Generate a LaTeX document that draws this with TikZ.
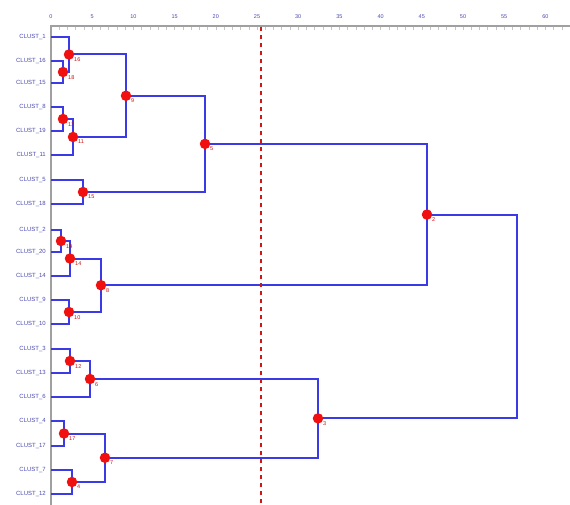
\documentclass[tikz,border=0pt]{standalone}
\usepackage{fontspec}
\setmainfont{Liberation Sans}
\usepackage{tikz}
\usetikzlibrary{positioning,calc}
\definecolor{tree}    {HTML}{3A3AE6}
\definecolor{leafink} {HTML}{4A4AB0}
\definecolor{dotred}  {HTML}{F01010}
\definecolor{cutred}  {HTML}{D01818}
\definecolor{axisgray}{HTML}{A0A0A0}
\tikzset{
  % --- nodes
  leaf/.style  = {anchor=east, inner sep=0pt, text=leafink, font=\fontsize{6}{7}\selectfont},
  tlbl/.style  = {anchor=south, inner sep=0pt, text=leafink, font=\fontsize{5.5}{6}\selectfont},
  mdot/.style  = {circle, fill=dotred, inner sep=0pt, minimum size=10.5pt},
  mlbl/.style  = {anchor=north west, inner sep=0pt, text=dotred!85!black, font=\fontsize{5.5}{6}\selectfont},
  % --- edges
  link/.style  = {draw=tree, line width=2pt},
  axis/.style  = {draw=axisgray, line width=2pt},
  cut/.style   = {draw=cutred, line width=1.8pt, dash pattern=on 4pt off 4pt},
}
\begin{document}
\begin{tikzpicture}[x=1pt,y=-1pt]
  \useasboundingbox (0,0) rectangle (570,505);
  % axis and ticks
  \coordinate (ax0) at (51,26);
  \coordinate (ax1) at (570,26);
  \coordinate (ax2) at (51,505);
  \foreach \v in {0,5,...,60}
    \node[tlbl] (t\v) at ({51+8.24*\v},19) {\v};
  \foreach \v in {1,...,62}
    \draw[axisgray!60, line width=0.5pt] ({51+8.24*\v},27) -- ++(0,3);
  \draw[axis] (ax2) -- (ax0) -- (ax1);
  % leaves
  \foreach \n/\ly in {1/37,16/61,15/83,8/107,19/131,11/155,5/180,18/204,
                      2/230,20/252,14/276,9/300,10/324,3/349,13/373,6/397,
                      4/421,17/446,7/470,12/494}{
    \coordinate (c\n) at (51,\ly);
    \node[leaf] (l\n) at (46,\ly) {CLUST\_\n};
  }
  % merges: name / x / first child / second child
  \foreach \m/\mx/\a/\b in {18/63/c16/c15, 16/69/c1/m18, 13/63/c8/c19, 11/73/m13/c11,
                            9/126/m16/m11, 15/83/c5/c18, 5/205/m9/m15,
                            19/61/c2/c20, 14/70/m19/c14, 10/69/c9/c10, 8/101/m14/m10,
                            2/427/m5/m8, 12/70/c3/c13, 6/90/m12/c6,
                            17/64/c4/c17, 4/72/c7/c12, 7/105/m17/m4,
                            3/318/m6/m7, 1/517/m2/m3}{
    \path let \p1=(\a), \p2=(\b) in
      coordinate (m\m) at ($(\mx pt,0)+(0,{0.5*(\y1+\y2)})$);
    \draw[link] (\a) -| (m\m) |- (\b);
  }
  % cut line
  \coordinate (cut0) at (261,27);
  \coordinate (cut1) at (261,505);
  \draw[cut] (cut0) -- (cut1);
  % merge dots, then their numbers
  \foreach \m in {18,16,13,11,9,15,5,19,14,10,8,2,12,6,17,4,7,3}
    \node[mdot] (d\m) at (m\m) {};
  \foreach \m in {18,16,13,11,9,15,5,19,14,10,8,2,12,6,17,4,7,3}
    \node[mlbl] (n\m) at ([xshift=5pt,yshift=-3pt]m\m) {\m};
\end{tikzpicture}
\end{document}
